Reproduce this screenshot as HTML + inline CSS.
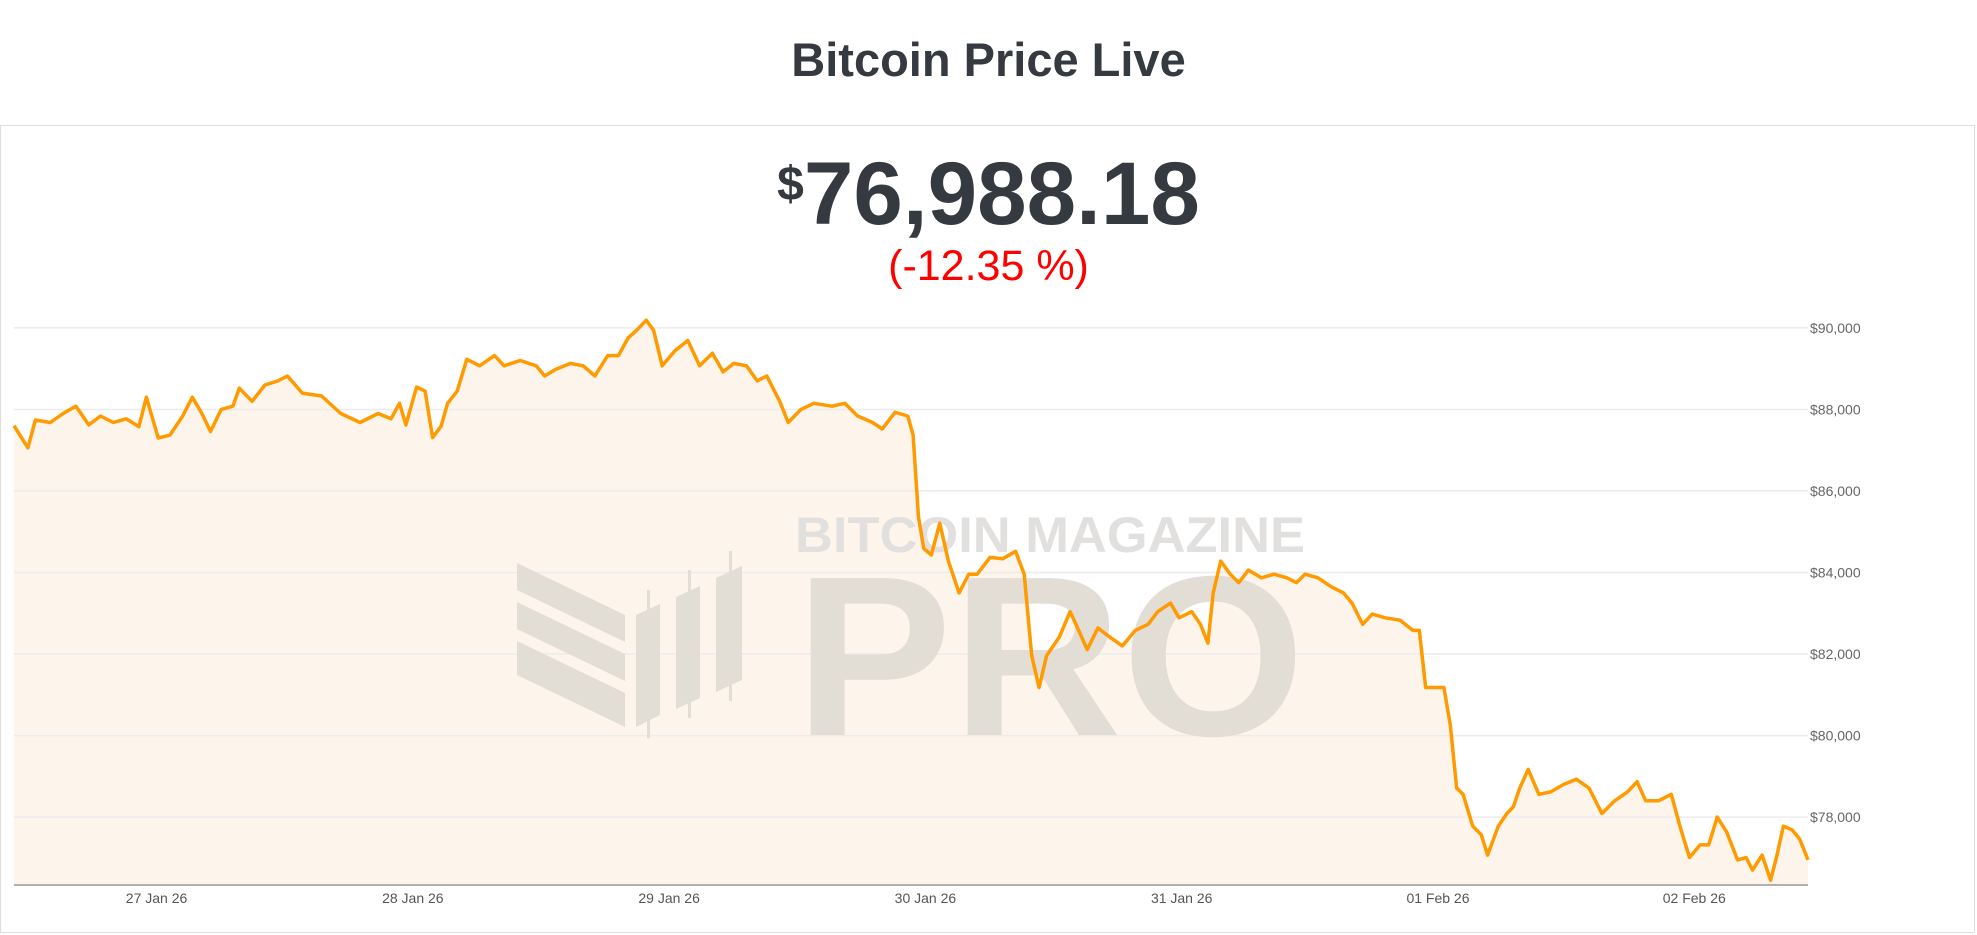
<!DOCTYPE html>
<html><head><meta charset="utf-8">
<style>
html,body{margin:0;padding:0;background:#fff;width:1977px;height:935px;overflow:hidden;font-family:"Liberation Sans",sans-serif}
#title{position:absolute;left:0;width:1977px;top:32px;text-align:center;font-weight:bold;font-size:47px;color:#343a40;line-height:56px}
#card{position:absolute;left:0;top:125px;width:1973px;height:806px;border:1px solid #dedede;box-sizing:content-box}
#price{position:absolute;left:0;width:1977px;top:138px;text-align:center;color:#343a40;font-weight:bold;line-height:110px;white-space:nowrap}
#price .d{font-size:48px;vertical-align:top;position:relative;top:-8px}
#price .n{font-size:89px}
#pct{position:absolute;left:0;width:1977px;top:240px;text-align:center;color:#f00;font-size:43px;line-height:52px}
svg{position:absolute;left:0;top:0}
</style></head><body>
<div id="title">Bitcoin Price Live</div>
<div id="card"></div>
<div id="price"><span class="d">$</span><span class="n">76,988.18</span></div>
<div id="pct">(-12.35 %)</div>
<svg id="chart" width="1977" height="935"></svg>
<script>
const hours=[0,1.3,2.0,3.4,4.6,5.8,7.0,8.1,9.3,10.5,11.7,12.4,13.5,14.6,15.8,16.7,17.6,18.4,19.4,20.5,21.1,22.3,23.5,24.7,25.6,27.0,28.8,30.6,32.4,34.1,35.3,36.1,36.7,37.7,38.5,39.2,40.0,40.6,41.5,42.4,43.6,45.0,45.9,47.4,48.9,49.7,50.7,52.1,53.3,54.4,55.6,56.6,57.5,58.3,59.2,59.9,60.7,61.9,63.1,64.2,65.4,66.4,67.4,68.6,69.6,70.5,71.7,72.5,73.7,74.9,76.6,77.8,79.0,80.4,81.3,82.5,83.7,84.2,84.7,85.2,85.9,86.7,87.5,88.5,89.4,90.2,91.4,92.6,93.8,94.6,95.3,96.0,96.7,97.9,98.9,99.7,100.5,101.5,102.6,103.8,105.0,106.2,107.1,108.3,109.1,110.3,111.1,111.8,112.3,113.0,113.9,114.7,115.6,116.8,118.0,119.2,120.1,120.9,122.1,123.3,124.5,125.3,126.3,127.2,128.4,129.8,131.0,131.6,132.2,133.1,133.9,134.5,135.1,135.7,136.6,137.4,138.0,139.0,139.8,140.4,141.0,141.8,142.8,143.9,145.1,146.3,147.5,148.7,149.9,151.1,152.0,152.8,154.0,155.2,156.0,156.9,157.9,158.7,159.5,160.4,161.4,162.2,162.8,163.7,164.5,165.1,165.7,166.5,167.2,168.0];
const prices=[87600,87060,87740,87680,87900,88080,87620,87840,87680,87770,87580,88300,87300,87370,87840,88300,87900,87460,88000,88080,88520,88200,88600,88700,88820,88400,88330,87900,87680,87900,87770,88150,87620,88550,88450,87310,87590,88150,88450,89230,89070,89320,89070,89200,89070,88820,88980,89130,89070,88820,89320,89320,89750,89940,90190,89940,89070,89440,89690,89070,89380,88920,89130,89070,88700,88820,88200,87680,88000,88150,88080,88150,87840,87680,87520,87930,87840,87370,85360,84590,84430,85210,84280,83500,83960,83960,84370,84340,84520,83960,81960,81180,81960,82420,83040,82580,82110,82640,82420,82200,82580,82730,83040,83250,82890,83040,82730,82270,83500,84280,83960,83750,84060,83870,83960,83870,83750,83960,83870,83660,83500,83250,82730,82980,82890,82830,82580,82580,81180,81180,81180,80260,78710,78560,77780,77570,77070,77780,78090,78250,78710,79170,78560,78620,78800,78930,78710,78090,78400,78620,78870,78400,78400,78560,77780,77010,77320,77320,78000,77630,76950,77010,76700,77070,76450,77070,77780,77690,77470,76950];
const yTicks=[78000,80000,82000,84000,86000,88000,90000];
const xTickHours=[13.35,37.35,61.35,85.35,109.35,133.35,157.35];
const xTickLabels=["27 Jan 26","28 Jan 26","29 Jan 26","30 Jan 26","31 Jan 26","01 Feb 26","02 Feb 26"];
const NS="http://www.w3.org/2000/svg";
const svg=document.getElementById('chart');
const X0=14,X1=1808,H0=0,H1=168,YB=885;
function xs(h){return X0+(h-H0)/(H1-H0)*(X1-X0);}
function ys(p){return 327.9+(90000-p)/1000*40.77;}
function mk(t,a){const e=document.createElementNS(NS,t);for(const k in a)e.setAttribute(k,a[k]);svg.appendChild(e);return e;}
yTicks.forEach(v=>{
  const g=mk('line',{x1:X0,x2:X1,y1:ys(v),y2:ys(v),stroke:'#ececec','stroke-width':1.5});
  
  
  const t=mk('text',{x:1810,y:ys(v)+5,'font-size':14,fill:'#666','font-family':'"Liberation Sans",sans-serif'});
  t.textContent='$'+v.toLocaleString('en-US');
  
  
});
const wm=document.createElementNS(NS,'g');svg.appendChild(wm);


wm.innerHTML='<g fill="#e2ddd5"><polygon points="517,563 625,615 625,642 517,590"/><polygon points="517,602 625,654 625,681 517,629"/><polygon points="517,641 625,693 625,727 517,675"/><polygon points="636,615 660,604 660,715 636,727"/><polygon points="676,597 700,586 700,698 676,709"/><polygon points="716,578 742,566 742,680 716,692"/><rect x="647" y="590" width="3" height="148"/><rect x="688" y="570" width="3" height="148"/><rect x="729" y="551" width="3" height="150"/></g>'+
'<text x="1050" y="552" text-anchor="middle" font-family="Liberation Sans,sans-serif" font-weight="bold" font-size="50" fill="#e2e0de" textLength="510" lengthAdjust="spacingAndGlyphs">BITCOIN MAGAZINE</text>'+
'<text x="1050" y="735" text-anchor="middle" font-family="Liberation Sans,sans-serif" font-weight="bold" font-size="228" fill="#e2ddd5" textLength="510" lengthAdjust="spacingAndGlyphs">PRO</text>';
let d='';hours.forEach((h,i)=>{d+=(i?'L':'M')+xs(h).toFixed(1)+','+ys(prices[i]).toFixed(1);});
const area=mk('path',{d:d+'L'+xs(hours[hours.length-1])+','+YB+'L'+xs(hours[0])+','+YB+'Z',fill:'#fdf3e6','fill-opacity':0.8});


svg.insertBefore(area,svg.firstChild);
const ln=mk('path',{d:d,fill:'none',stroke:'#ff9a00','stroke-width':3.5,'stroke-linejoin':'round'});


const ax=mk('line',{x1:X0,x2:X1,y1:YB,y2:YB,stroke:'#999','stroke-width':1.5});


xTickHours.forEach((h,i)=>{
  const t=mk('text',{x:xs(h),y:903,'text-anchor':'middle','font-size':14,fill:'#555','font-family':'"Liberation Sans",sans-serif'});
  t.textContent=xTickLabels[i];
  
  
});
</script>
</body></html>
